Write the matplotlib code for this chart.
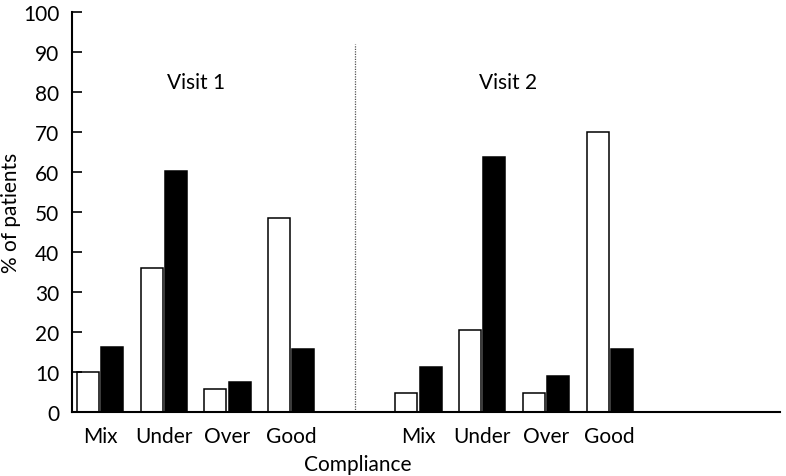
import numpy as np
import matplotlib
matplotlib.use('Agg')
import matplotlib.pyplot as plt

plt.rcParams['font.family'] = ['Lato', 'DejaVu Sans']
plt.rcParams['font.weight'] = 'normal'

categories = ['Mix', 'Under', 'Over', 'Good']
visit1_white = [10, 36, 5.8, 48.5]
visit1_black = [16.2, 60.2, 7.4, 15.8]
visit2_white = [4.8, 20.4, 4.8, 70.1]
visit2_black = [11.2, 63.8, 9.1, 15.8]

fig = plt.figure(figsize=(7.86, 4.77), dpi=100)
ax = fig.add_axes([0.0916, 0.134, 0.9004, 0.839])

w = 0.345
off = 0.19
pos1 = np.arange(len(categories))          # Visit 1 slots
pos2 = pos1 + len(categories) + 1          # Visit 2 after an empty slot

for pos, wh, bl in [(pos1, visit1_white, visit1_black), (pos2, visit2_white, visit2_black)]:
    ax.bar(pos - off, wh, w, color='white', edgecolor='black', linewidth=1.1)
    ax.bar(pos + off, bl, w, color='black', edgecolor='black', linewidth=1.1)

# dotted separator between visits
ax.plot([len(categories), len(categories)], [0, 92], color='#555555', lw=0.9, ls=(0, (1, 1)))

fs = 15
ax.text(1.5, 82.5, 'Visit 1', ha='center', va='center', fontsize=fs)
ax.text(6.4, 82.5, 'Visit 2', ha='center', va='center', fontsize=fs)

ax.set_xlim(-0.44, 10.67)
ax.set_ylim(0, 100)
ax.set_yticks(np.arange(0, 101, 10))
ax.set_xticks(np.concatenate([pos1, pos2]))
ax.set_xticklabels(categories * 2)
ax.tick_params(axis='y', direction='in', length=7, width=1.2, pad=9, labelsize=fs)
ax.tick_params(axis='x', length=0, pad=10, labelsize=fs)

ax.spines['top'].set_visible(False)
ax.spines['right'].set_visible(False)
ax.spines['left'].set_linewidth(1.5)
ax.spines['bottom'].set_linewidth(1.5)

ax.set_ylabel('% of patients', fontsize=fs)
ax.yaxis.set_label_coords(-0.072, 0.5)
fig.text(358 / 786, 1 - 465 / 477, 'Compliance', ha='center', va='center', fontsize=fs)

fig.savefig('out.png', dpi=100)
